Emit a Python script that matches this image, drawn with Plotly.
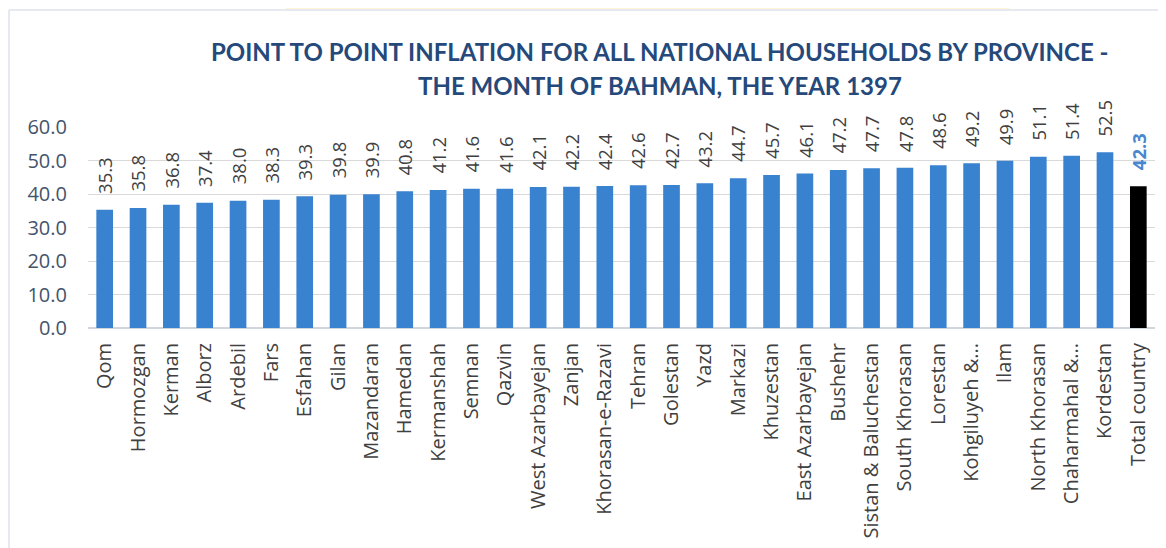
import plotly.graph_objects as go

provinces = ["Qom", "Hormozgan", "Kerman", "Alborz", "Ardebil", "Fars", "Esfahan", "Gilan",
             "Mazandaran", "Hamedan", "Kermanshah", "Semnan", "Qazvin", "West Azarbayejan",
             "Zanjan", "Khorasan-e-Razavi", "Tehran", "Golestan", "Yazd", "Markazi", "Khuzestan",
             "East Azarbayejan", "Bushehr", "Sistan & Baluchestan", "South Khorasan", "Lorestan",
             "Kohgiluyeh &...", "Ilam", "North Khorasan", "Chaharmahal &...", "Kordestan",
             "Total country"]
inflation = [35.3, 35.8, 36.8, 37.4, 38.0, 38.3, 39.3, 39.8, 39.9, 40.8, 41.2, 41.6, 41.6,
             42.1, 42.2, 42.4, 42.6, 42.7, 43.2, 44.7, 45.7, 46.1, 47.2, 47.7, 47.8, 48.6,
             49.2, 49.9, 51.1, 51.4, 52.5, 42.3]

y_ticks = [0, 10, 20, 30, 40, 50, 60]
title_lines = ["POINT TO POINT INFLATION FOR ALL NATIONAL HOUSEHOLDS BY PROVINCE -",
               "THE MONTH OF BAHMAN, THE YEAR 1397"]

bar_colors = ["#3882d0"] * (len(provinces) - 1) + ["#000000"]

fig = go.Figure(go.Bar(
    x=provinces,
    y=inflation,
    marker=dict(color=bar_colors, line=dict(width=0)),
    hoverinfo="x+y",
))

# value labels above the bars, the national total in bold blue
for name, val in zip(provinces, inflation):
    total = name == "Total country"
    fig.add_annotation(
        x=name, y=val, text=("<b>%.1f</b>" if total else "%.1f") % val,
        textangle=-90, showarrow=False, yanchor="bottom", yshift=14,
        font=dict(family="Open Sans", size=18.5, color="#4a86d0" if total else "#404040"),
    )

# frame and the yellow tab at the top of the slide
fig.add_shape(type="line", xref="paper", yref="paper", x0=-0.074, x1=1.03, y0=1.582, y1=1.582,
              line=dict(color="#dde3ec", width=1.5))
fig.add_shape(type="line", xref="paper", yref="paper", x0=-0.074, x1=-0.074, y0=1.582, y1=-1.2,
              line=dict(color="#dde3ec", width=1.5))
fig.add_shape(type="path", xref="paper", yref="paper",
              path="M 0.185 1.586 L 0.189 1.66 L 0.857 1.66 L 0.864 1.586 Z",
              fillcolor="#fff3d6", line=dict(width=0), layer="below")

for text, ypos in zip(title_lines, [1.378, 1.204]):
    fig.add_annotation(text=text, xref="paper", yref="paper", x=0.536, y=ypos,
                       xanchor="center", yanchor="middle", showarrow=False,
                       font=dict(family="Lato", size=24, color="#24497a", weight="bold"))

fig.update_layout(
    width=1166,
    height=548,
    paper_bgcolor="white",
    plot_bgcolor="white",
    margin=dict(l=80, r=19, t=119, b=228),
    bargap=0.5,
    showlegend=False,
    xaxis=dict(
        tickangle=-90,
        tickfont=dict(family="Open Sans", size=20, color="#404040"),
        showgrid=False,
        showline=False,
        ticks="",
        ticklabelstandoff=10,
        automargin=False,
    ),
    yaxis=dict(
        range=[0, 60],
        tickvals=y_ticks,
        tickformat=".1f",
        tickfont=dict(family="Open Sans", size=20, color="#44546a"),
        gridcolor="#d9d9d9",
        zeroline=True,
        zerolinecolor="#d0d5de",
        zerolinewidth=1.5,
        ticks="",
        ticklabelstandoff=20,
        automargin=False,
    ),
)

fig.write_html("out.html")
